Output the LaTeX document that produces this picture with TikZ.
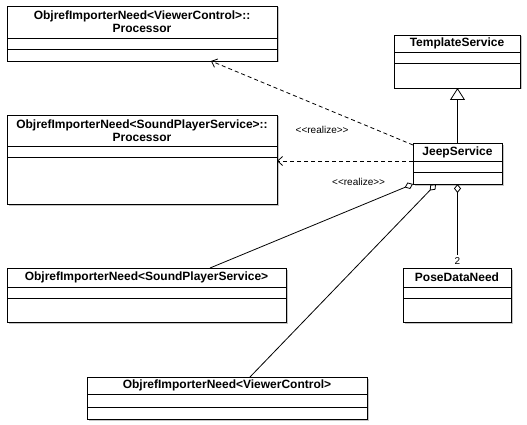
\documentclass[tikz,border=0pt]{standalone}
\usepackage{fontspec}
\setmainfont{Liberation Sans}
\usetikzlibrary{arrows.meta, positioning, calc, shadows}

\begin{document}
\begin{tikzpicture}[
    x=1pt, y=-1pt,
    line width=0.8pt,
    boxshadow/.style={drop shadow={shadow xshift=1.5pt, shadow yshift=-1.5pt, fill=black!45}},
    cname/.style={draw, fill=white, boxshadow, inner sep=0pt, outer sep=0pt, align=center, minimum height=18pt, font=\bfseries\fontsize{12}{13}\selectfont},
    cpart/.style={draw, fill=white, boxshadow, inner sep=0pt, outer sep=0pt, minimum height=11pt},
    realize/.style={dash pattern=on 4pt off 3pt, -{Straight Barb[length=5pt, width=9pt]}},
    inherit/.style={-{Triangle[open, length=12pt, width=15pt]}},
    agg/.style={{Diamond[open, length=9pt, width=7pt]}-},
    stereo/.style={font=\fontsize{10}{12}\selectfont, inner sep=1pt},
    mult/.style={font=\fontsize{10}{12}\selectfont, fill=white, inner sep=3pt}
]
\useasboundingbox (0,0) rectangle (527,425);

% processors
\node[cname, minimum width=270pt, minimum height=32pt, anchor=north west] (vcproc) at (7,6) {ObjrefImporterNeed<ViewerControl>::\\Processor};
\node[cpart, minimum width=270pt, below=0pt of vcproc] (vcproc-a) {};
\node[cpart, minimum width=270pt, minimum height=12pt, below=0pt of vcproc-a] (vcproc-o) {};

\node[cname, minimum width=270pt, minimum height=31pt, anchor=north west] (spsproc) at (7,115) {ObjrefImporterNeed<SoundPlayerService>::\\Processor};
\node[cpart, minimum width=270pt, below=0pt of spsproc] (spsproc-a) {};
\node[cpart, minimum width=270pt, minimum height=47pt, below=0pt of spsproc-a] (spsproc-o) {};

% services
\node[cname, minimum width=126pt, minimum height=17pt, anchor=north west] (tmpl) at (394,35) {TemplateService};
\node[cpart, minimum width=126pt, below=0pt of tmpl] (tmpl-a) {};
\node[cpart, minimum width=126pt, minimum height=25pt, below=0pt of tmpl-a] (tmpl-o) {};

\node[cname, minimum width=89pt, anchor=north west] (jeep) at (413,143) {JeepService};
\node[cpart, minimum width=89pt, below=0pt of jeep] (jeep-a) {};
\node[cpart, minimum width=89pt, minimum height=12pt, below=0pt of jeep-a] (jeep-o) {};

% needs
\node[cname, minimum width=108pt, minimum height=19pt, anchor=north west] (pose) at (403,268) {PoseDataNeed};
\node[cpart, minimum width=108pt, below=0pt of pose] (pose-a) {};
\node[cpart, minimum width=108pt, minimum height=24pt, below=0pt of pose-a] (pose-o) {};

\node[cname, minimum width=279pt, minimum height=19pt, anchor=north west] (spsneed) at (7,268) {ObjrefImporterNeed<SoundPlayerService>};
\node[cpart, minimum width=279pt, below=0pt of spsneed] (spsneed-a) {};
\node[cpart, minimum width=279pt, minimum height=24pt, below=0pt of spsneed-a] (spsneed-o) {};

\node[cname, minimum width=280pt, minimum height=17pt, anchor=north west] (vcneed) at (87,377) {ObjrefImporterNeed<ViewerControl>};
\node[cpart, minimum width=280pt, minimum height=13pt, below=0pt of vcneed] (vcneed-a) {};
\node[cpart, minimum width=280pt, minimum height=12pt, below=0pt of vcneed-a] (vcneed-o) {};

% relations
\draw[realize] ([yshift=-2pt]jeep.north west) -- node[stereo, pos=0.45, yshift=-23pt] {<{}<realize>{}>} ([xshift=204pt]vcproc-o.south west);
\draw[realize] (jeep.south west) -- node[stereo, pos=0.4, yshift=-21pt] {<{}<realize>{}>} (jeep.south west -| spsproc-o.east);
\draw[inherit] (jeep.north) -- (jeep.north |- tmpl-o.south);
\draw[agg] (jeep-o.south west) -- ([xshift=203pt]spsneed.north west);
\draw[agg] ([xshift=23pt]jeep-o.south west) -- ([xshift=163pt]vcneed.north west);
\draw[agg] (jeep-o.south) -- node[mult, at end, anchor=south] {2} (jeep-o.south |- pose.north);
\end{tikzpicture}
\end{document}
